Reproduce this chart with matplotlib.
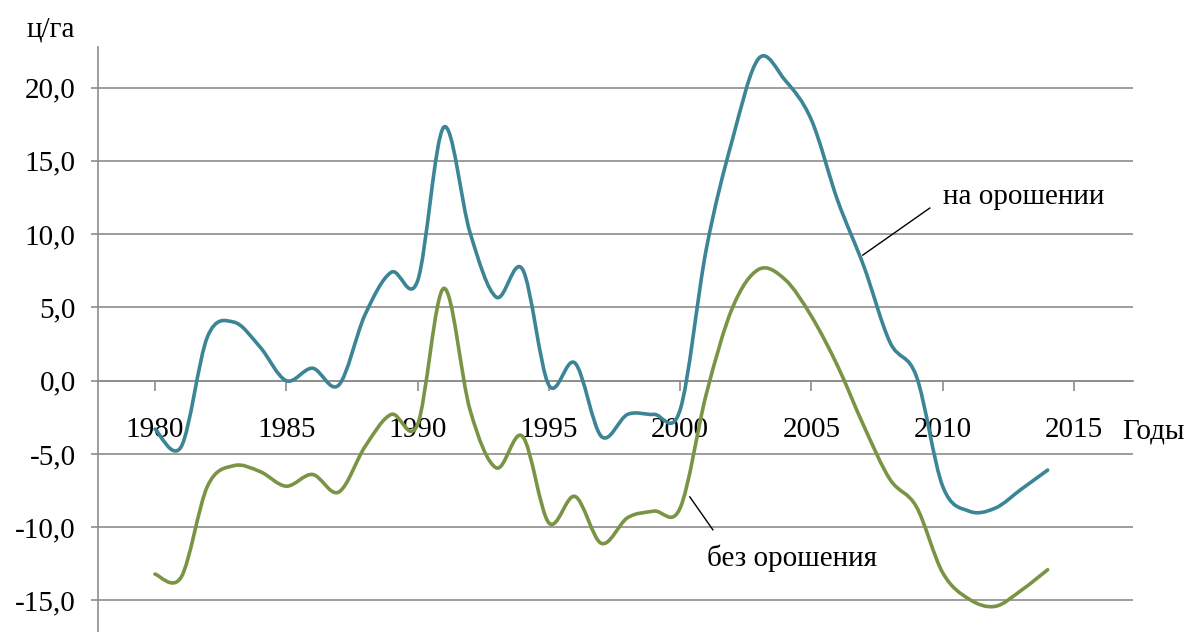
import numpy as np
import matplotlib.pyplot as plt
from matplotlib.path import Path
from matplotlib.patches import PathPatch

plt.rcParams['font.family'] = ['Liberation Serif', 'DejaVu Serif']

# Отклонение урожайности по годам, ц/га
years = list(range(1980, 2015))
irrigated = [-3.3, -4.5, 3.0, 4.0, 2.3, 0.0, 0.85, -0.3, 4.5, 7.4, 6.8,
             17.3, 10.1, 5.7, 7.6, -0.3, 1.2, -3.8, -2.3, -2.3, -2.0,
             9.0, 16.5, 22.0, 20.5, 17.8, 12.3, 7.8, 2.6, 0.3, -7.2,
             -8.9, -8.7, -7.4, -6.1]
rainfed = [-13.2, -13.4, -7.2, -5.8, -6.2, -7.2, -6.4, -7.6, -4.5, -2.3, -3.0,
           6.3, -2.0, -5.95, -3.8, -9.7, -7.9, -11.1, -9.35, -8.9, -8.7,
           -0.9, 5.0, 7.6, 6.9, 4.4, 1.0, -3.1, -6.75, -8.6, -13.1,
           -14.9, -15.4, -14.3, -12.9]

x_ticks = [1980, 1985, 1990, 1995, 2000, 2005, 2010, 2015]
y_ticks = [-15, -10, -5, 0, 5, 10, 15, 20]
y_labels = [f'{v:.1f}'.replace('.', ',') for v in y_ticks]

blue = '#3b8596'
green = '#7a9445'
grid_col = '#8c8c8c'


def smooth_path(xs, ys):
    # сглаженная линия: сегменты Безье по соседним точкам
    pts = np.column_stack([xs, ys]).astype(float)
    ext = np.vstack([pts[0], pts, pts[-1]])
    verts = [pts[0]]
    codes = [Path.MOVETO]
    for i in range(len(pts) - 1):
        p0, p1, p2, p3 = ext[i], ext[i + 1], ext[i + 2], ext[i + 3]
        verts += [p1 + (p2 - p0) / 6, p2 - (p3 - p1) / 6, p2]
        codes += [Path.CURVE4] * 3
    return Path(verts, codes)


fig = plt.figure(figsize=(11.9, 6.32), dpi=100)
ax = fig.add_axes([98 / 1190, 0.0, (1133 - 98) / 1190, 1 - 47 / 632])
ax.set_xlim(1977.83, 2017.25)
ax.set_ylim(-17.15, 22.77)

for y in y_ticks:
    ax.axhline(y, color=grid_col, lw=1.2, zorder=1)

for vals, col in [(irrigated, blue), (rainfed, green)]:
    ax.add_patch(PathPatch(smooth_path(years, vals), fill=False,
                           edgecolor=col, lw=2.6, zorder=3,
                           capstyle='round', joinstyle='round'))

for side in ['top', 'right']:
    ax.spines[side].set_visible(False)
ax.spines['left'].set_color(grid_col)
ax.spines['left'].set_linewidth(1.2)
ax.spines['bottom'].set_position(('data', 0))
ax.spines['bottom'].set_color(grid_col)
ax.spines['bottom'].set_linewidth(1.2)

ax.set_yticks(y_ticks)
ax.set_yticklabels(y_labels)
ax.set_xticks(x_ticks)
ax.tick_params(axis='y', direction='out', length=5, width=1.2, color=grid_col,
               pad=11, labelsize=21)
ax.tick_params(axis='x', direction='out', length=7.5, width=1.2, color=grid_col,
               pad=19, labelsize=21)

fig.text(75 / 1190, 1 - 30 / 632, 'ц/га', ha='right', va='center', fontsize=21)
ax.text(2016.83, -3.45, 'Годы', ha='left', va='center', fontsize=21,
        clip_on=False)

# подписи кривых с выносными линиями
ax.text(2010.0, 12.5, 'на орошении', ha='left', va='center', fontsize=21)
ax.plot([2009.51, 2006.96], [11.78, 8.57], color='black', lw=1, zorder=4)
ax.text(2001.02, -12.1, 'без орошения', ha='left', va='center', fontsize=21)
ax.plot([2000.37, 2001.25], [-7.93, -10.18], color='black', lw=1, zorder=4)

fig.savefig('out.png', dpi=100)
